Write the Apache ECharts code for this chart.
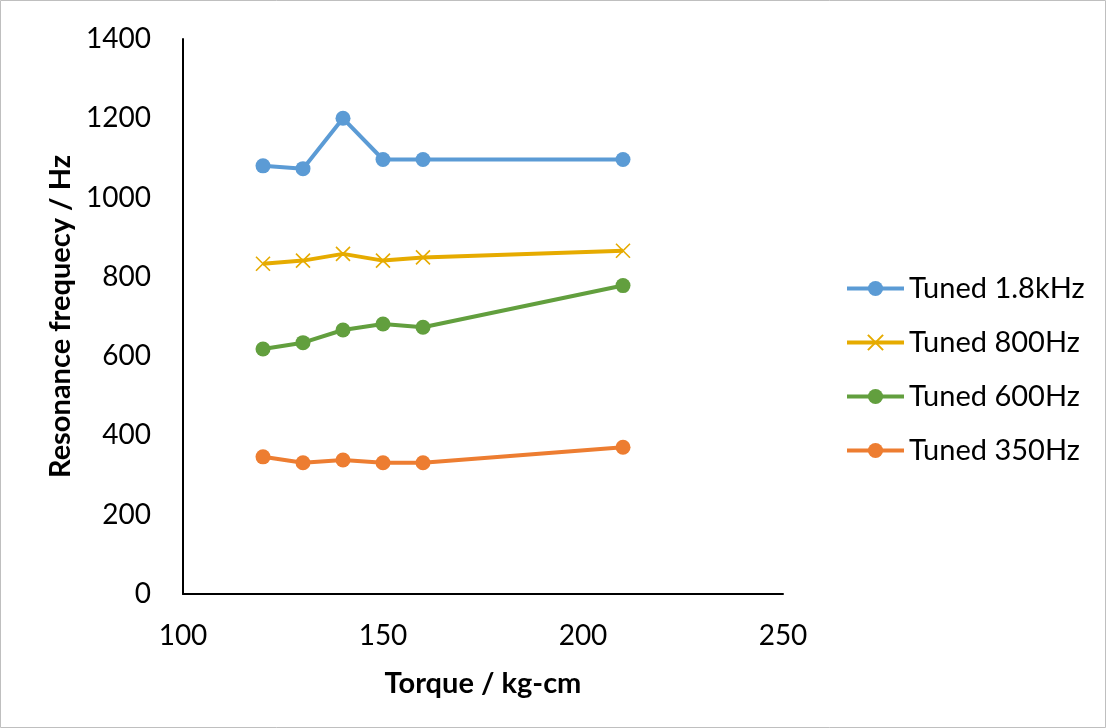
<!DOCTYPE html>
<html>
<head>
<meta charset="utf-8">
<script src="https://cdn.jsdelivr.net/npm/echarts@6/dist/echarts.min.js"></script>
<style>
  html, body { margin: 0; padding: 0; background: #fff; }
  #chart { width: 1106px; height: 728px; }
</style>
</head>
<body>
<div id="chart"></div>
<script>
// Torque settings (kg-cm)
const torque = [120, 130, 140, 150, 160, 210];

// Measured resonance frequency (Hz) for each tuning
const tuned1800 = [1080, 1073, 1200, 1096, 1096, 1096];
const tuned800 = [833, 841, 858, 841, 849, 866];
const tuned600 = [618, 634, 666, 681, 673, 778];
const tuned350 = [346, 331, 338, 331, 331, 370];

const seriesNames = ['Tuned 1.8kHz', 'Tuned 800Hz', 'Tuned 600Hz', 'Tuned 350Hz'];
const seriesColors = ['#5B9BD5', '#E6AB00', '#629F3E', '#ED7D31'];

const FONT = 'Lato';
const crossPath = 'path://M0,0L10,10M10,0L0,10';

function pairs(ys) {
  return torque.map((x, i) => [x, ys[i]]);
}

function lineSeries(name, ys, color, marker) {
  const isCross = marker === 'cross';
  return {
    name: name,
    type: 'line',
    data: pairs(ys),
    symbol: isCross ? crossPath : 'circle',
    symbolSize: isCross ? 14 : 15,
    showAllSymbol: true,
    lineStyle: { color: color, width: 4 },
    itemStyle: isCross
      ? { color: 'rgba(0,0,0,0)', borderColor: color, borderWidth: 1.6 }
      : { color: color, borderWidth: 0 },
    emphasis: { disabled: true },
    animation: false
  };
}

const chart = echarts.init(document.getElementById('chart'));
chart.setOption({
  backgroundColor: '#ffffff',
  textStyle: { fontFamily: FONT },
  graphic: [{
    type: 'rect',
    shape: { x: 0.5, y: 0.5, width: 1105, height: 727 },
    style: { fill: 'none', stroke: '#BFBFBF', lineWidth: 1 },
    silent: true
  }],
  grid: { left: 183, right: 323, top: 39, bottom: 134, containLabel: false },
  legend: {
    orient: 'vertical',
    left: 845,
    top: 274,
    padding: 0,
    itemWidth: 57,
    itemHeight: 19,
    itemGap: 25,
    lineStyle: { width: 4 },
    textStyle: { fontFamily: FONT, fontSize: 29, color: '#000' },
    data: seriesNames
  },
  xAxis: {
    type: 'value',
    min: 100,
    max: 250,
    interval: 50,
    name: 'Torque / kg-cm',
    nameLocation: 'middle',
    nameGap: 75,
    nameTextStyle: { fontFamily: FONT, fontSize: 29, fontWeight: 'bold', color: '#000' },
    axisLine: { show: true, onZero: false, lineStyle: { color: '#000', width: 2 } },
    axisTick: { show: false },
    splitLine: { show: false },
    axisLabel: { fontFamily: FONT, fontSize: 28, color: '#000', margin: 28 }
  },
  yAxis: {
    type: 'value',
    min: 0,
    max: 1400,
    interval: 200,
    name: 'Resonance frequecy / Hz',
    nameLocation: 'middle',
    nameGap: 105,
    nameRotate: 90,
    nameTextStyle: { fontFamily: FONT, fontSize: 29, fontWeight: 'bold', color: '#000' },
    axisLine: { show: true, lineStyle: { color: '#000', width: 2 } },
    axisTick: { show: false },
    splitLine: { show: false },
    axisLabel: {
      fontFamily: FONT, fontSize: 28, color: '#000', margin: 32,
      formatter: (v) => String(v)
    }
  },
  series: [
    lineSeries(seriesNames[0], tuned1800, seriesColors[0], 'circle'),
    lineSeries(seriesNames[1], tuned800, seriesColors[1], 'cross'),
    lineSeries(seriesNames[2], tuned600, seriesColors[2], 'circle'),
    lineSeries(seriesNames[3], tuned350, seriesColors[3], 'circle')
  ]
});
</script>
</body>
</html>
